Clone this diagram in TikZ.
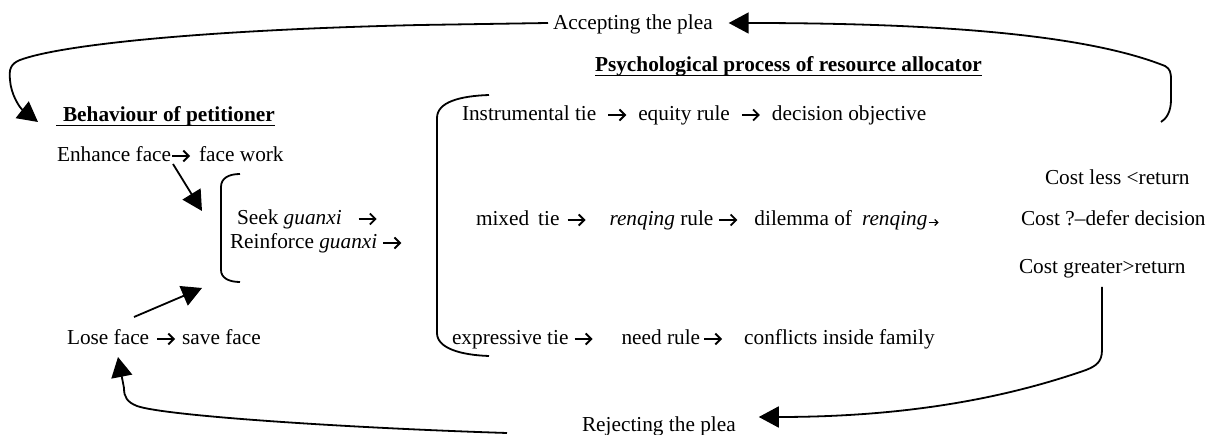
\documentclass[tikz,border=0pt]{standalone}
\usepackage{fontspec}
\setmainfont{Liberation Serif}
\usetikzlibrary{arrows.meta,calc}

% inline arrows used inside the running text
\newcommand\tarrow{\tikz[x=1pt,y=1pt,baseline=0pt]{\useasboundingbox (0,0) rectangle (18,11);
  \draw[line width=1.5pt,-{Straight Barb[length=5.5pt,width=11pt,line width=1.9pt]}] (0,6) -- (18,6);}}
\newcommand\sarrow{\tikz[x=1pt,y=1pt,baseline=0pt]{\useasboundingbox (0,0) rectangle (11,7);
  \draw[line width=1pt,-{Straight Barb[length=3pt,width=6pt,line width=1.1pt]}] (1,3.5) -- (11,3.5);}}

\begin{document}
\begin{tikzpicture}[x=1pt,y=-1pt,line width=1.8pt,
  lbl/.style={inner sep=0pt,outer sep=0pt,anchor=base west,font=\fontsize{21.3pt}{25pt}\selectfont},
  hdr/.style={lbl,font=\fontsize{21.3pt}{25pt}\selectfont\bfseries},
  uline/.style={line width=1.3pt},
  link/.style={-{Triangle[length=20pt,width=21pt]}},
  brace/.style={line width=1.8pt}]
\useasboundingbox (0,0) rectangle (1210,435);

% headings
\node[hdr] (hb) at (63,122) {Behaviour of petitioner};
\draw[uline] ([xshift=-7pt,yshift=-3.5pt]hb.base west) -- ([yshift=-3.5pt]hb.base east);
\node[hdr] (hp) at (595,72) {Psychological process of resource allocator};
\draw[uline] ([yshift=-3.5pt]hp.base west) -- ([yshift=-3.5pt]hp.base east);

% outcomes
\node[lbl] (acc) at (553,30) {Accepting the plea};
\node[lbl] (rej) at (582,431) {Rejecting the plea};

% petitioner side
\node[lbl] (enh) at (57,162) {Enhance face\hspace{1pt}\tarrow\hspace{9pt}face work};
\node[lbl] (seek) at (237,225) {Seek \textit{guanxi}\hspace{17pt}\tarrow};
\node[lbl] (reinf) at (230,249) {Reinforce \textit{guanxi}\hspace{6pt}\tarrow};
\node[lbl] (lose) at (67,345) {Lose face\hspace{8pt}\tarrow\hspace{7pt}save face};

% allocator side
\node[lbl] (inst) at (462,121) {Instrumental tie\hspace{12pt}\tarrow\hspace{12pt}equity rule\hspace{12pt}\tarrow\hspace{12pt}decision objective};
\node[lbl] (mixed) at (476,226) {mixed\hspace{9pt}tie\hspace{8pt}\tarrow\hspace{24pt}\textit{renqing} rule\hspace{6pt}\tarrow\hspace{17pt}dilemma of\hspace{10pt}\textit{renqing}\sarrow};
\node[lbl] (expr) at (452,345) {expressive tie\hspace{6pt}\tarrow\hspace{29pt}need rule\hspace{4pt}\tarrow\hspace{22pt}conflicts inside family};
\node[lbl] (c1) at (1045,185) {Cost less <return};
\node[lbl] (c2) at (1021,226) {Cost ?–defer decision};
\node[lbl] (c3) at (1019,274) {Cost greater>return};

% brackets
\draw[brace] (240,174) .. controls (229,174) and (221,178) .. (221,187) -- (221,270)
  .. controls (221,278) and (229,282) .. (240,282);
\draw[brace] (489,95) .. controls (460,96) and (437,102) .. (437,118) -- (437,333)
  .. controls (437,348) and (460,355) .. (489,356);

% face arrows into the guanxi bracket
\draw[link] ($(enh.base west)+(116,2)$) -- ($(enh.base west)+(145,49)$);
\draw[link] ($(lose.base west)+(67,-28)$) -- ($(lose.base west)+(135,-57)$);

% accepting loop
\draw[link] (1161,122) .. controls (1166,119) and (1171,112) .. (1171,100) -- (1171,80)
  .. controls (1171,72) and (1170,69) .. (1165,66)
  .. controls (1090,36) and (950,23) .. ($(acc.base east)+(16,-7)$);
\draw[link] ($(acc.base west)+(-5,-7)$) -- (420,25)
  .. controls (200,30) and (60,45) .. (20,60)
  .. controls (10,64) and (9,70) .. (10,80)
  .. controls (11,95) and (20,108) .. ($(hb.base west)+(-25,0)$);

% rejecting loop
\draw[link] ($(c3.base west)+(83,13)$) -- (1102,350)
  .. controls (1102,362) and (1096,366) .. (1086,370)
  .. controls (1000,400) and (900,417) .. ($(rej.base east)+(23,-14)$);
\draw[link] ($(rej.base west)+(-75,2)$)
  .. controls (350,428) and (165,416) .. (137,406)
  .. controls (127,402) and (124,397) .. (124,388)
  -- ($(lose.base west)+(51,12)$);
\end{tikzpicture}
\end{document}
